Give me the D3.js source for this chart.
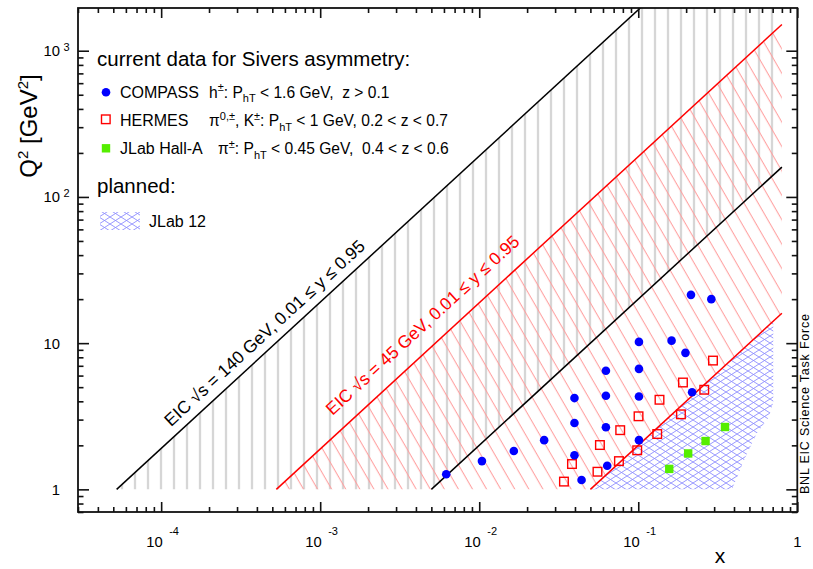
<!DOCTYPE html>
<html><head><meta charset="utf-8">
<script src="https://cdn.jsdelivr.net/npm/d3@7"></script>
<style>
body{margin:0;background:#fff}
text{font-family:"Liberation Sans",Arial,Helvetica,sans-serif;white-space:pre}
</style>
</head><body>
<svg id="chart" width="813" height="569"></svg>
<script>
// ---------- data ----------
const xDomain = [3e-5, 1];
const yDomain = [0.7, 1960];
const xMajorTicks = [1e-4, 1e-3, 1e-2, 1e-1, 1];
const xTickLabels = [["10","-4"],["10","-3"],["10","-2"],["10","-1"],["1",""]];
const yMajorTicks = [1, 10, 100, 1000];
const yTickLabels = [["1",""],["10",""],["10","2"],["10","3"]];

const compassX  = [0.0062,0.0104,0.0165,0.0256,0.0397,0.0397,0.0397,0.0440,0.0626,0.0626,0.0626,0.0638,0.101,0.101,0.101,0.101,0.162,0.198,0.218,0.2145,0.288];
const compassQ2 = [1.27,1.56,1.83,2.17,4.21,2.84,1.71,1.16,6.47,4.37,2.66,1.45,10.2,6.67,4.32,2.17,10.4,8.58,4.62,21.4,20.0];

const hermesX  = [0.0341,0.0383,0.0554,0.0574,0.0756,0.0770,0.0985,0.1004,0.1316,0.136,0.1855,0.191,0.260,0.295];
const hermesQ2 = [1.13,1.49,1.32,2.01,1.56,2.54,1.85,3.16,2.39,4.10,3.26,5.38,4.80,7.60];

const jlabX  = [0.1566,0.206,0.265,0.351];
const jlabQ2 = [1.38,1.76,2.14,2.67];

// EIC kinematic limits (x, Q2) end points
const eic140UpperX = [5.25e-5, 0.8],  eic140UpperQ2 = [1, 15240];
const eic140LowerX = [5.0e-3, 0.8],   eic140LowerQ2 = [1, 160];
const eic45UpperX  = [5.3e-4, 0.8],   eic45UpperQ2  = [1, 1510];
const eic45LowerX  = [0.05, 0.8],     eic45LowerQ2  = [1, 16];
const regionXMax = 0.8;

// JLab 12 planned region boundary
const jlab12X  = [0.05, 0.706, 0.706, 0.66, 0.557, 0.471, 0.389];
const jlab12Q2 = [1, 14.1, 3.93, 3.1, 2.42, 1.66, 1];

const label140 = "EIC \u221As = 140 GeV, 0.01 \u2264 y \u2264 0.95";
const label45  = "EIC \u221As = 45 GeV, 0.01 \u2264 y \u2264 0.95";

// ---------- setup ----------
const svg = d3.select("#chart");
const L = 78, R = 797.3, T = 8, B = 512;
const x = d3.scaleLog().domain(xDomain).range([L, R]);
const y = d3.scaleLog().domain(yDomain).range([B, T]);
const pts = (xs, ys) => xs.map((v, i) => [v, ys[i]]);
const line = d3.line().x(d => x(d[0])).y(d => y(d[1]));

const defs = svg.append("defs");
defs.append("clipPath").attr("id","plotClip").append("rect")
  .attr("x",L).attr("y",T).attr("width",R-L).attr("height",B-T);

// gray vertical hatch
const pg = defs.append("pattern").attr("id","hGray").attr("patternUnits","userSpaceOnUse")
  .attr("x",128.5).attr("y",0).attr("width",13).attr("height",20);
pg.append("line").attr("x1",6.5).attr("x2",6.5).attr("y1",-1).attr("y2",21)
  .attr("stroke","#b9b9b9").attr("stroke-width",1.4);

// red diagonal hatch
const pr = defs.append("pattern").attr("id","hRed").attr("patternUnits","userSpaceOnUse")
  .attr("width",12.2).attr("height",20).attr("patternTransform","rotate(-30)");
pr.append("line").attr("x1",6).attr("x2",6).attr("y1",-1).attr("y2",21)
  .attr("stroke","#ff9c9c").attr("stroke-width",1);

// blue cross hatch
const HW = 11, HH = 7;
const pb = defs.append("pattern").attr("id","hBlue").attr("patternUnits","userSpaceOnUse")
  .attr("width",HW).attr("height",HH);
pb.append("line").attr("x1",-2).attr("y1",-2*HH/HW).attr("x2",HW+2).attr("y2",HH+2*HH/HW)
  .attr("stroke","#8c8cff").attr("stroke-width",0.9);
pb.append("line").attr("x1",-2).attr("y1",HH+2*HH/HW).attr("x2",HW+2).attr("y2",-2*HH/HW)
  .attr("stroke","#8c8cff").attr("stroke-width",0.9);

const plot = svg.append("g").attr("clip-path","url(#plotClip)");

// regions
const grayPoly = [pts(eic140UpperX,eic140UpperQ2)[0], pts(eic140UpperX,eic140UpperQ2)[1],
  [regionXMax, eic140UpperQ2[1]], [regionXMax, eic140LowerQ2[1]], [eic140LowerX[0], eic140LowerQ2[0]]];
plot.append("path").attr("d", line(grayPoly)+"Z").attr("fill","url(#hGray)");

const redPoly = [...pts(eic45UpperX,eic45UpperQ2), ...pts(eic45LowerX,eic45LowerQ2).reverse()];
plot.append("path").attr("d", line(redPoly)+"Z").attr("fill","url(#hRed)");

plot.append("path").attr("d", line(pts(jlab12X,jlab12Q2))+"Z").attr("fill","url(#hBlue)");

// lines
[[eic140UpperX,eic140UpperQ2,"#000"],[eic140LowerX,eic140LowerQ2,"#000"],
 [eic45UpperX,eic45UpperQ2,"#ff0000"],[eic45LowerX,eic45LowerQ2,"#ff0000"]].forEach(([xs,ys,c])=>{
  plot.append("path").attr("d", line(pts(xs,ys))).attr("fill","none")
    .attr("stroke",c).attr("stroke-width",1.5);
});

// line labels
const ang = Math.atan2(y(1)-y(10), x(10)-x(1)) * 180/Math.PI;
function lineLabel(xs, ys, xAt, off, txt, col){
  const q = ys[0] * Math.pow(10, Math.log10(xAt/xs[0]) * Math.log10(ys[1]/ys[0]) / Math.log10(xs[1]/xs[0]));
  svg.append("text").attr("transform",`translate(${x(xAt)},${y(q)}) rotate(${-ang})`)
    .attr("x",0).attr("y",-off).attr("font-size",17.5).attr("fill",col).text(txt);
}
lineLabel(eic140UpperX, eic140UpperQ2, 1.26e-4, 9, label140, "#000");
lineLabel(eic45UpperX, eic45UpperQ2, 1.40e-3, 16, label45, "#ff0000");

// data markers
const g = svg.append("g");
g.selectAll(".hm").data(pts(hermesX,hermesQ2)).join("rect")
  .attr("x",d=>x(d[0])-4.3).attr("y",d=>y(d[1])-4.3).attr("width",8.6).attr("height",8.6)
  .attr("fill","#fff").attr("fill-opacity",0).attr("stroke","#ff0000").attr("stroke-width",1.4);
g.selectAll(".cp").data(pts(compassX,compassQ2)).join("circle")
  .attr("cx",d=>x(d[0])).attr("cy",d=>y(d[1])).attr("r",4.3).attr("fill","#0000ff");
g.selectAll(".jl").data(pts(jlabX,jlabQ2)).join("rect")
  .attr("x",d=>x(d[0])-4.2).attr("y",d=>y(d[1])-4.2).attr("width",8.4).attr("height",8.4)
  .attr("fill","#55ee00");

// ---------- legend ----------
const lg = svg.append("g");
lg.append("text").attr("x",97).attr("y",66).attr("font-size",20.5).text("current data for Sivers asymmetry:");
lg.append("circle").attr("cx",106).attr("cy",92.3).attr("r",4.3).attr("fill","#0000ff");
lg.append("rect").attr("x",101.5).attr("y",115).attr("width",8.6).attr("height",8.6)
  .attr("fill","none").attr("stroke","#ff0000").attr("stroke-width",1.4);
lg.append("rect").attr("x",101.8).attr("y",144.1).attr("width",8.4).attr("height",8.4).attr("fill","#55ee00");
lg.append("text").attr("x",120).attr("y",97.7).attr("font-size",16).text("COMPASS");
lg.append("text").attr("x",120).attr("y",126).attr("font-size",16).text("HERMES");
lg.append("text").attr("x",120).attr("y",154.3).attr("font-size",16).text("JLab Hall-A");

function rich(xp, yp, parts){
  const t = lg.append("text").attr("x",xp).attr("y",yp).attr("font-size",15.6);
  let cur = 0;
  parts.forEach(([s, k]) => {
    const target = k==="sup" ? -6.5 : k==="sub" ? 4.5 : 0;
    t.append("tspan").attr("dy", target-cur).attr("font-size", k ? 11 : 15.6).text(s);
    cur = target;
  });
}
rich(209, 97.7, [["h"],["\u00B1","sup"],[": P"],["hT","sub"],[" < 1.6 GeV,  z > 0.1"]]);
rich(209, 126, [["\u03C0"],["0,\u00B1","sup"],[", K"],["\u00B1","sup"],[": P"],["hT","sub"],[" < 1 GeV, 0.2 < z < 0.7"]]);
rich(218, 154.3, [["\u03C0"],["\u00B1","sup"],[": P"],["hT","sub"],[" < 0.45 GeV,  0.4 < z < 0.6"]]);

lg.append("text").attr("x",97).attr("y",192.7).attr("font-size",20.5).text("planned:");
lg.append("rect").attr("x",100).attr("y",212).attr("width",40).attr("height",18).attr("fill","url(#hBlue)");
lg.append("text").attr("x",149).attr("y",227).attr("font-size",16).text("JLab 12");

// ---------- axes ----------
const minorX = x.ticks().filter(v => !xMajorTicks.some(m => Math.abs(m-v)/m < 1e-6));
const minorY = y.ticks().filter(v => !yMajorTicks.some(m => Math.abs(m-v)/m < 1e-6));
const ax = svg.append("g");
function addAxis(gen, tx, ty){
  const a = ax.append("g").attr("transform",`translate(${tx},${ty})`).call(gen);
  a.select(".domain").remove();
  a.selectAll(".tick line").attr("stroke","#111").attr("stroke-width",1.6);
}
addAxis(d3.axisBottom(x).tickValues(minorX).tickSize(-5).tickFormat(""), 0, B);
addAxis(d3.axisBottom(x).tickValues(xMajorTicks).tickSize(-10).tickFormat(""), 0, B);
addAxis(d3.axisTop(x).tickValues(minorX).tickSize(-5).tickFormat(""), 0, T);
addAxis(d3.axisTop(x).tickValues(xMajorTicks).tickSize(-10).tickFormat(""), 0, T);
addAxis(d3.axisLeft(y).tickValues(minorY).tickSize(-5.5).tickFormat(""), L, 0);
addAxis(d3.axisLeft(y).tickValues(yMajorTicks).tickSize(-11).tickFormat(""), L, 0);
addAxis(d3.axisRight(y).tickValues(minorY).tickSize(-5.5).tickFormat(""), R, 0);
addAxis(d3.axisRight(y).tickValues(yMajorTicks).tickSize(-11).tickFormat(""), R, 0);
svg.append("rect").attr("x",L).attr("y",T).attr("width",R-L).attr("height",B-T)
  .attr("fill","none").attr("stroke","#111").attr("stroke-width",1.8);

// tick labels
xMajorTicks.forEach((v,i)=>{
  const [b,s] = xTickLabels[i];
  if (s) {
    svg.append("text").attr("x",x(v)-15).attr("y",546.7).attr("font-size",14.8).text(b);
    svg.append("text").attr("x",x(v)+8).attr("y",535).attr("font-size",11).text(s);
  } else {
    svg.append("text").attr("x",x(v)).attr("y",546.7).attr("font-size",14.8).attr("text-anchor","middle").text(b);
  }
});
yMajorTicks.forEach((v,i)=>{
  const [b,s] = yTickLabels[i];
  svg.append("text").attr("x",60).attr("y",y(v)+5.5).attr("font-size",14.8).attr("text-anchor","end").text(b);
  if (s) svg.append("text").attr("x",63.5).attr("y",y(v)+0.5).attr("font-size",11).text(s);
});

// axis titles
const yt = svg.append("text").attr("transform","translate(37,126) rotate(-90)")
  .attr("text-anchor","middle").attr("font-size",24);
yt.append("tspan").text("Q");
yt.append("tspan").attr("dy",-9).attr("font-size",15).text("2");
yt.append("tspan").attr("dy",9).text(" [GeV");
yt.append("tspan").attr("dy",-9).attr("font-size",15).text("2");
yt.append("tspan").attr("dy",9).text("]");

svg.append("text").attr("x",720).attr("y",563).attr("text-anchor","middle").attr("font-size",21).text("x");

svg.append("text").attr("transform","translate(809,404) rotate(-90)").attr("text-anchor","middle")
  .attr("font-size",12.5).attr("textLength",180).attr("lengthAdjust","spacing")
  .text("BNL EIC Science Task Force");
</script>
</body></html>
